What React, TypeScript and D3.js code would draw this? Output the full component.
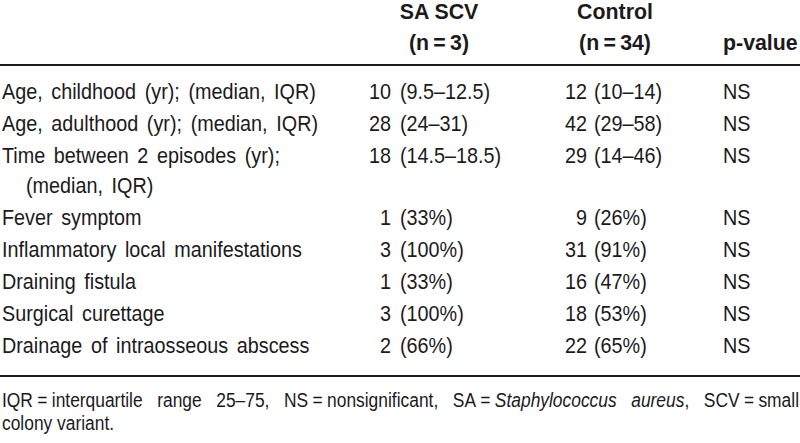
import React, { useEffect, useRef } from "react";
import * as d3 from "d3";

const W = 800;
const H = 443;

// ---- table data ----
const headerGroups = ["SA SCV", "Control", "p-value"];
const headerCounts = ["(n\u2009=\u20093)", "(n\u2009=\u200934)", ""];

const rowLabels: string[][] = [
  ["Age, childhood (yr); (median, IQR)"],
  ["Age, adulthood (yr); (median, IQR)"],
  ["Time between 2 episodes (yr);", "(median, IQR)"],
  ["Fever symptom"],
  ["Inflammatory local manifestations"],
  ["Draining fistula"],
  ["Surgical curettage"],
  ["Drainage of intraosseous abscess"],
];
const saScvValue = ["10", "28", "18", "1", "3", "1", "3", "2"];
const saScvDetail = ["(9.5–12.5)", "(24–31)", "(14.5–18.5)", "(33%)", "(100%)", "(33%)", "(100%)", "(66%)"];
const controlValue = ["12", "42", "29", "9", "31", "16", "18", "22"];
const controlDetail = ["(10–14)", "(29–58)", "(14–46)", "(26%)", "(91%)", "(47%)", "(53%)", "(65%)"];
const pValues = ["NS", "NS", "NS", "NS", "NS", "NS", "NS", "NS"];

const FONT = "'Liberation Sans', Arial, Helvetica, sans-serif";
const INK = "#1c1a1b";
const SX = 0.9; // horizontal condensing of body text
const SX_HEAD = 0.97;
const EQ = "\u2005=\u2005";

type TProps = {
  x: number;
  y: number;
  sx?: number;
  anchor?: "start" | "middle" | "end";
  children: React.ReactNode;
  tref?: React.Ref<SVGTextElement>;
};
function T({ x, y, sx = SX, anchor = "start", children, tref }: TProps) {
  return (
    <text ref={tref} transform={`translate(${x},${y}) scale(${sx},1)`} textAnchor={anchor}>
      {children}
    </text>
  );
}

export default function App() {
  const footRef = useRef<SVGTextElement | null>(null);

  const colX = {
    label: 2,
    labelIndent: 26,
    saEnd: 391,
    saDetail: 400,
    saCenter: 439,
    ctrlEnd: 587,
    ctrlDetail: 594,
    ctrlCenter: 615,
    p: 723,
  };

  const firstBaseline = 99;
  const rowStep = 32;
  const contStep = 30;
  const baselines: number[] = [];
  let y = firstBaseline;
  rowLabels.forEach((lines) => {
    baselines.push(y);
    y += rowStep + (lines.length - 1) * contStep;
  });
  const rowScale = d3.scaleOrdinal<number, number>().domain(d3.range(rowLabels.length)).range(baselines);

  const footSX = 0.87;
  useEffect(() => {
    const el = footRef.current;
    if (!el) return;
    const sel = d3.select(el);
    sel.attr("word-spacing", 0);
    const natural = el.getComputedTextLength();
    const txt = el.textContent || "";
    const gaps = (txt.match(/ /g) || []).length;
    const target = (W - 3) / footSX;
    if (gaps > 0) sel.attr("word-spacing", Math.max(0, (target - natural) / gaps));
  }, []);

  const fs = 22;
  return (
    <svg width={W} height={H} style={{ position: "absolute", left: 0, top: 0, background: "#fff" }}>
      <rect width={W} height={H} fill="#fff" />
      <g fontFamily={FONT} fill={INK}>
        {/* header */}
        <g fontWeight="bold" fontSize={fs}>
          <T x={colX.saCenter} y={19} sx={SX_HEAD} anchor="middle">{headerGroups[0]}</T>
          <T x={colX.ctrlCenter} y={19} sx={SX_HEAD} anchor="middle">{headerGroups[1]}</T>
          <T x={colX.saCenter} y={50} sx={SX_HEAD} anchor="middle">{headerCounts[0]}</T>
          <T x={colX.ctrlCenter} y={50} sx={SX_HEAD} anchor="middle">{headerCounts[1]}</T>
          <T x={colX.p} y={50} sx={SX_HEAD}>{headerGroups[2]}</T>
        </g>
        <line x1={0} x2={W} y1={65} y2={65} stroke={INK} strokeWidth={2} />

        {/* body */}
        <g fontSize={fs} wordSpacing={3.5}>
          {rowLabels.map((lines, i) => (
            <g key={i}>
              {lines.map((ln, j) => (
                <T key={j} x={j === 0 ? colX.label : colX.labelIndent} y={rowScale(i) + j * contStep}>
                  {ln}
                </T>
              ))}
              <T x={colX.saEnd} y={rowScale(i)} anchor="end">{saScvValue[i]}</T>
              <T x={colX.saDetail} y={rowScale(i)}>{saScvDetail[i]}</T>
              <T x={colX.ctrlEnd} y={rowScale(i)} anchor="end">{controlValue[i]}</T>
              <T x={colX.ctrlDetail} y={rowScale(i)}>{controlDetail[i]}</T>
              <T x={colX.p} y={rowScale(i)}>{pValues[i]}</T>
            </g>
          ))}
        </g>
        <line x1={0} x2={W} y1={376} y2={376} stroke={INK} strokeWidth={2} />

        {/* footnote */}
        <g fontSize={20}>
          <T tref={footRef} x={2} y={407} sx={footSX}>
            IQR{EQ}interquartile range 25–75, NS{EQ}nonsignificant, SA{EQ}
            <tspan fontStyle="italic">Staphylococcus aureus</tspan>, SCV{EQ}small
          </T>
          <T x={2} y={430} sx={footSX}>colony variant.</T>
        </g>
      </g>
    </svg>
  );
}
